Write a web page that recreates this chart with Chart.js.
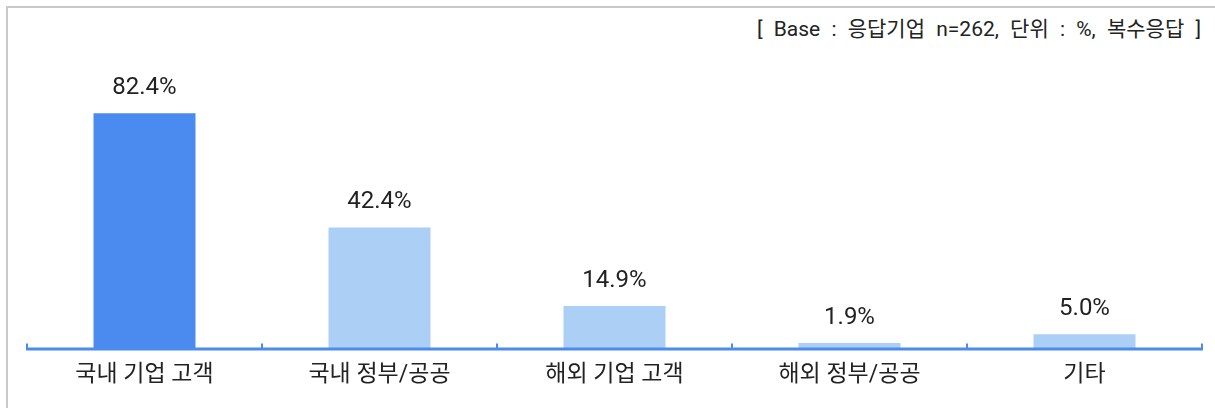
<!DOCTYPE html>
<html><head><meta charset="utf-8">
<script src="https://cdn.jsdelivr.net/npm/chart.js@4.4.1/dist/chart.umd.min.js"></script>
<style>
html,body{margin:0;padding:0;background:#fff;}
#wrap{position:relative;width:1215px;height:408px;overflow:hidden;}
#frame{position:absolute;left:6px;top:6px;right:-10px;bottom:-10px;border-top:2px solid #c9c9c9;border-left:2px solid #c9c9c9;}
#note{position:absolute;right:14px;top:15px;font:21px Roboto,"Noto Sans CJK KR",sans-serif;color:#222;white-space:pre;word-spacing:6px;line-height:28px;}
canvas{position:absolute;left:0;top:0;}
</style></head><body>
<div id="wrap"><div id="frame"></div>
<div id="note">[ Base : 응답기업 n=262, 단위 : %, 복수응답 ]</div>
<canvas id="c" width="1215" height="408"></canvas></div>
<script>
const categories = ["국내 기업 고객", "국내 정부/공공", "해외 기업 고객", "해외 정부/공공", "기타"];
const values = [82.4, 42.4, 14.9, 1.9, 5.0];
const barColors = ["#4b8bef", "#abcff5", "#abcff5", "#abcff5", "#abcff5"];
const FONT = 'Roboto, "Noto Sans CJK KR", sans-serif';

const axisPlugin = {
  id: 'axisPlugin',
  afterDatasetsDraw(chart) {
    const ctx = chart.ctx, xs = chart.scales.x, area = chart.chartArea;
    const y = area.bottom;
    ctx.save();
    ctx.strokeStyle = '#4b8bef';
    ctx.lineWidth = 3;
    ctx.beginPath(); ctx.moveTo(xs.left - 1, y + 0.5); ctx.lineTo(xs.right + 1, y + 0.5); ctx.stroke();
    ctx.lineWidth = 2;
    const n = categories.length, step = (xs.right - xs.left) / n;
    for (let i = 0; i <= n; i++) {
      const x = Math.round(xs.left + step * i);
      ctx.beginPath(); ctx.moveTo(x, y - 5); ctx.lineTo(x, y); ctx.stroke();
    }
    ctx.fillStyle = '#222';
    ctx.font = '24px ' + FONT;
    ctx.textAlign = 'center'; ctx.textBaseline = 'middle';
    chart.getDatasetMeta(0).data.forEach((bar, i) => {
      ctx.fillText(values[i].toFixed(1) + '%', bar.x, bar.y - 25);
    });
    ctx.restore();
  }
};

new Chart(document.getElementById('c'), {
  type: 'bar',
  data: { labels: categories, datasets: [{ data: values, backgroundColor: barColors, barPercentage: 0.434, categoryPercentage: 1.0 }] },
  options: {
    responsive: false, animation: false, devicePixelRatio: 1,
    layout: { padding: { left: 27, right: 13, top: 63, bottom: 6 } },
    plugins: { legend: { display: false }, tooltip: { enabled: false } },
    scales: {
      x: { grid: { display: false, drawTicks: false }, border: { display: false },
           ticks: { padding: 13, color: '#222', font: { size: 23, family: FONT } } },
      y: { display: false, min: 0, max: 100 }
    }
  },
  plugins: [axisPlugin]
});
</script></body></html>
